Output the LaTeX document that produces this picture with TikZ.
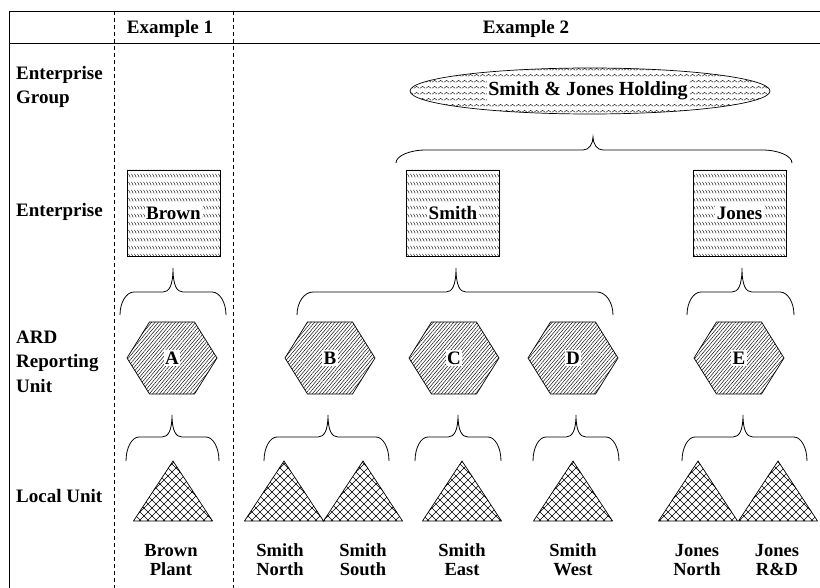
\documentclass[tikz,border=0pt]{standalone}
\usepackage{fontspec}
\setmainfont{Liberation Serif}
\usetikzlibrary{patterns,patterns.meta,shapes.geometric}

\pgfdeclarepatternformonly{wavyrows}{\pgfqpoint{0pt}{0pt}}{\pgfqpoint{6pt}{6pt}}{\pgfqpoint{6pt}{6pt}}{%
  \pgfsetlinewidth{0.45pt}%
  \pgfpathmoveto{\pgfqpoint{0pt}{2pt}}%
  \pgfpathlineto{\pgfqpoint{3pt}{4.2pt}}%
  \pgfpathlineto{\pgfqpoint{6pt}{2pt}}%
  \pgfusepath{stroke}}
\pgfdeclarepatternformonly{slashrows}{\pgfqpoint{0pt}{0pt}}{\pgfqpoint{3.4pt}{8pt}}{\pgfqpoint{3.4pt}{8pt}}{%
  \pgfsetlinewidth{0.45pt}%
  \pgfpathmoveto{\pgfqpoint{0.6pt}{6.8pt}}%
  \pgfpathlineto{\pgfqpoint{2.6pt}{3pt}}%
  \pgfusepath{stroke}}
\pgfdeclarepatternformonly{diagcross}{\pgfqpoint{-0.5pt}{-0.5pt}}{\pgfqpoint{8.5pt}{8.5pt}}{\pgfqpoint{8pt}{8pt}}{%
  \pgfsetlinewidth{0.5pt}%
  \pgfpathmoveto{\pgfqpoint{-0.3pt}{-0.3pt}}\pgfpathlineto{\pgfqpoint{8.3pt}{8.3pt}}%
  \pgfpathmoveto{\pgfqpoint{-0.3pt}{8.3pt}}\pgfpathlineto{\pgfqpoint{8.3pt}{-0.3pt}}%
  \pgfusepath{stroke}}

\tikzset{
  lbl/.style={font=\fontsize{19}{24.5}\selectfont\bfseries, align=left, anchor=base west, inner sep=0pt},
  hdr/.style={font=\fontsize{19}{20}\selectfont\bfseries, inner sep=0pt},
  bot/.style={font=\fontsize{18.5}{18.5}\selectfont\bfseries, align=center, anchor=base, inner sep=0pt},
  inlbl/.style={font=\fontsize{19}{20}\selectfont\bfseries, fill=white, inner sep=1.5pt},
  frame/.style={line width=0.8pt},
  sepline/.style={line width=0.7pt, dash pattern=on 4pt off 3pt},
  brc/.style={line width=0.8pt},
  entbox/.style={draw, line width=0.7pt, pattern=slashrows, minimum width=93pt, minimum height=86pt, inner sep=0pt},
  hexs/.style={draw, line width=0.7pt, pattern={Lines[angle=50,distance=2.6pt,line width=0.45pt]}},
  tri/.style={draw, line width=0.7pt, pattern=diagcross},
  grp/.style={draw, ellipse, line width=0.7pt, pattern=wavyrows, minimum width=360pt, minimum height=46pt, inner sep=0pt},
}

% curly brace: x1, x2, xtip, ytip, yflat, yend, r
\newcommand\curlybr[7]{%
  \draw[brc] (#1,#6) .. controls (#1,{#5+0.45*(#6-#5)}) and ({#1+0.45*#7},#5) .. ({#1+#7},#5)
    -- ({#3-10},#5) .. controls ({#3-4},#5) and (#3,{#5-6}) .. (#3,#4)
    .. controls (#3,{#5-6}) and ({#3+4},#5) .. ({#3+10},#5)
    -- ({#2-#7},#5) .. controls ({#2-0.45*#7},#5) and (#2,{#5+0.45*(#6-#5)}) .. (#2,#6);}

\begin{document}
\begin{tikzpicture}[x=1pt,y=-1pt]
\useasboundingbox (0,0) rectangle (820,588);

% frame
\coordinate (tl) at (9,11);
\coordinate (tr) at (820,11);
\coordinate (hl) at (9,43);
\coordinate (hr) at (820,43);
\coordinate (bl) at (9,588);
\draw[frame] (tl) -- (tr);
\draw[frame] (hl) -- (hr);
\draw[frame] (tl) -- (bl);
\coordinate (s1t) at (114,11); \coordinate (s1b) at (114,588);
\coordinate (s2t) at (233,11); \coordinate (s2b) at (233,588);
\draw[sepline] (s1t) -- (s1b);
\draw[sepline] (s2t) -- (s2b);

% headers
\node[hdr] (ex1) at (170,28.5) {Example 1};
\node[hdr] (ex2) at (526,28.5) {Example 2};

% row labels (base anchor = last line baseline)
\node[lbl] (rgroup) at (16,104) {Enterprise\\Group};
\node[lbl] (rent) at (16,217) {Enterprise};
\node[lbl] (rard) at (16,392) {ARD\\Reporting\\Unit};
\node[lbl] (rlocal) at (16,502) {Local Unit};

% enterprise group
\node[grp] (holdshape) at (590,91) {};
\node[inlbl, font=\fontsize{20}{20}\selectfont\bfseries] (holding) at (588,91) {Smith \& Jones Holding};
\curlybr{396}{792}{593}{137}{150}{163}{30}

% enterprises
\node[entbox] (brownbox) at (173.5,213) {};
\node[inlbl] (brown) at (brownbox) {Brown};
\node[entbox] (smithbox) at (453,213) {};
\node[inlbl] (smith) at (smithbox) {Smith};
\node[entbox] (jonesbox) at (739.5,213) {};
\node[inlbl] (jones) at (jonesbox) {Jones};

\curlybr{120}{226}{173}{268}{292}{315}{14}
\curlybr{297}{613}{456}{268}{292}{315}{16}
\curlybr{687}{794}{742}{268}{292}{315}{14}

% ARD reporting units
\foreach \n/\x in {A/172,B/330,C/454,D/573,E/739}{
  \draw[hexs] ({\x-45},358) -- ({\x-22.5},322) -- ({\x+22.5},322) -- ({\x+45},358)
     -- ({\x+22.5},394) -- ({\x-22.5},394) -- cycle;
  \node[inlbl] (hex\n) at (\x,358) {\n};
}

\curlybr{126}{219}{172}{415}{437}{461}{13}
\curlybr{264}{389}{328}{415}{437}{461}{13}
\curlybr{415}{501}{458}{415}{437}{461}{13}
\curlybr{533}{619}{576}{415}{437}{461}{13}
\curlybr{682}{807}{743}{415}{437}{461}{13}

% local units
\foreach \x in {173,284,363,462,573,698,778}{
  \draw[tri] ({\x-39.5},521) -- (\x,461) -- ({\x+39.5},521) -- cycle;
}

\node[bot] (lu1) at (171,575) {Brown\\Plant};
\node[bot] (lu2) at (280,575) {Smith\\North};
\node[bot] (lu3) at (363,575) {Smith\\South};
\node[bot] (lu4) at (462,575) {Smith\\East};
\node[bot] (lu5) at (573,575) {Smith\\West};
\node[bot] (lu6) at (697,575) {Jones\\North};
\node[bot] (lu7) at (777,575) {Jones\\R\&D};
\end{tikzpicture}
\end{document}
